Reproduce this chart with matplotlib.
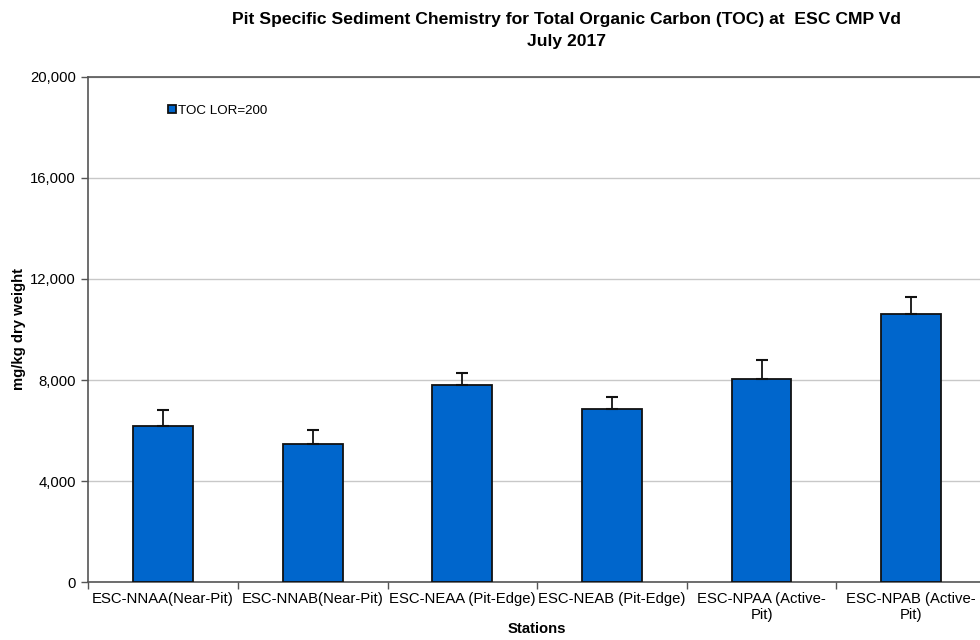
import matplotlib
matplotlib.use("Agg")
import matplotlib.pyplot as plt
import numpy as np

stations = ["ESC-NNAA(Near-Pit)", "ESC-NNAB(Near-Pit)", "ESC-NEAA (Pit-Edge)",
            "ESC-NEAB (Pit-Edge)", "ESC-NPAA (Active-\nPit)", "ESC-NPAB (Active-\nPit)"]
toc = [6200, 5480, 7790, 6870, 8060, 10610]
toc_err = [620, 540, 490, 440, 750, 660]
yticks = [0, 4000, 8000, 12000, 16000, 20000]

plt.rcParams['font.family'] = ['Liberation Sans', 'DejaVu Sans']

fig = plt.figure(figsize=(9.8, 6.4), dpi=100)
ax = fig.add_axes([0.0901, 0.0902, 0.916, 0.790])

x = np.arange(len(stations))
ax.bar(x, toc, width=0.4, color='#0066CC', edgecolor='#111111', linewidth=1.3,
       label='TOC LOR=200', zorder=3)
ax.errorbar(x, toc, yerr=[np.zeros(len(toc)), toc_err], fmt='none', ecolor='#111111',
            elinewidth=1.3, capsize=4, capthick=1.5, zorder=4)

ax.set_xlim(-0.5, len(stations) - 0.5)
ax.set_ylim(0, 20000)
ax.set_yticks(yticks)
ax.set_yticklabels([f"{v:,}" for v in yticks], fontsize=10.7)
ax.yaxis.grid(True, color='#c8c8c8', linewidth=1.0, zorder=0)
ax.set_axisbelow(True)

ax.set_xticks(x)
ax.set_xticklabels(stations, fontsize=10.7, linespacing=1.15)
ax.tick_params(axis='x', length=0, pad=7)
ax.set_xticks(np.arange(len(stations) + 1) - 0.5, minor=True)
ax.tick_params(axis='x', which='minor', length=5, color='#555555', width=1.0)
ax.tick_params(axis='y', length=5, color='#555555', width=1.0, pad=4)

for s in ['top', 'right']:
    ax.spines[s].set_visible(False)
for s in ['left', 'bottom']:
    ax.spines[s].set_color('#555555')
    ax.spines[s].set_linewidth(1.2)
ax.axhline(20000, color='#555555', linewidth=1.2, zorder=5, clip_on=False)

ax.set_xlabel('Stations', fontsize=10.7, fontweight='bold', labelpad=0)
ax.set_ylabel('mg/kg dry weight', fontsize=10.7, fontweight='bold', labelpad=2.5)

fig.suptitle('Pit Specific Sediment Chemistry for Total Organic Carbon (TOC) at  ESC CMP Vd\nJuly 2017',
             x=0.578, y=0.981, fontsize=12.6, fontweight='bold', linespacing=1.55)

leg = ax.legend(loc='upper left', bbox_to_anchor=(0.075, 0.968), frameon=False,
                fontsize=9.6, handlelength=0.6, handleheight=0.6, handletextpad=0.2)

fig.savefig('out.png', dpi=100)
